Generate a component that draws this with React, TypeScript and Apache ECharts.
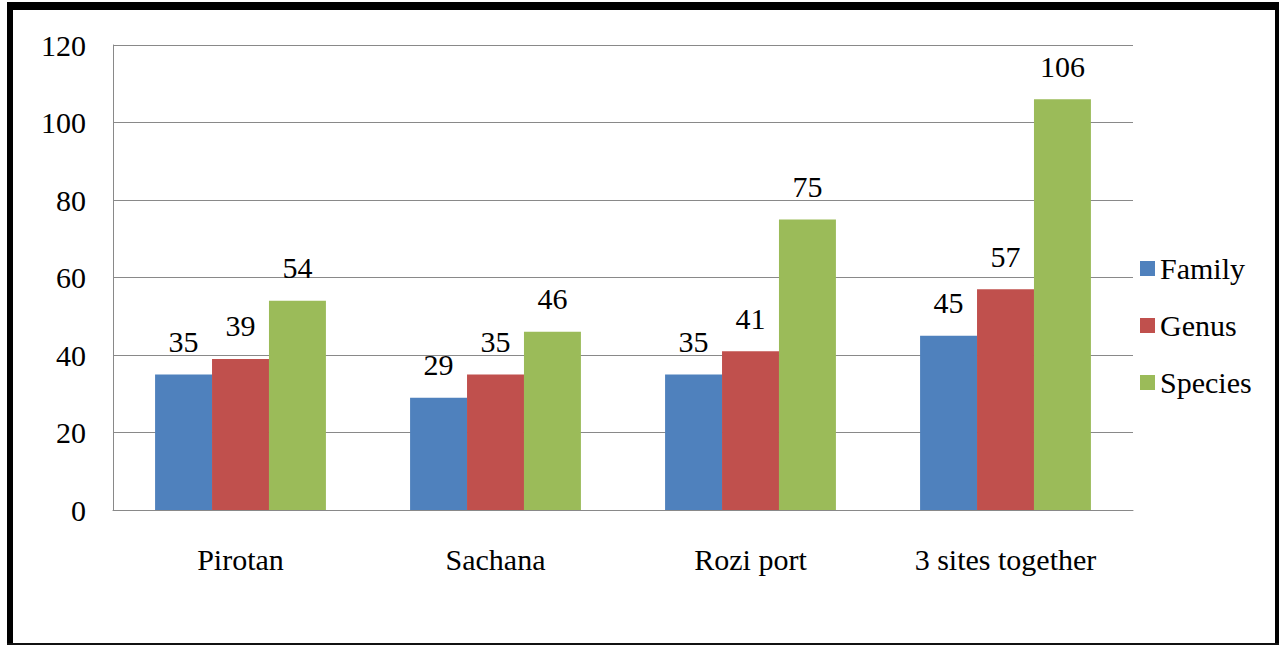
import React, { useEffect, useRef } from "react";
import * as echarts from "echarts";

const categories = ["Pirotan", "Sachana", "Rozi port", "3 sites together"];
const familyValues = [35, 29, 35, 45];
const genusValues = [39, 35, 41, 57];
const speciesValues = [54, 46, 75, 106];
const seriesNames = ["Family", "Genus", "Species"];
const colors = ["#4F81BD", "#C0504D", "#9BBB59"];

const FONT = "Liberation Serif";

export default function App() {
  const ref = useRef<HTMLDivElement>(null);
  useEffect(() => {
    document.body.style.margin = "0";
    if (!ref.current) return;
    const chart = echarts.init(ref.current, undefined, { renderer: "svg" });
    const dataSets = [familyValues, genusValues, speciesValues];
    chart.setOption({
      animation: false,
      backgroundColor: "#ffffff",
      textStyle: { fontFamily: FONT },
      grid: { left: 113, top: 45, right: 1279 - 1133, bottom: 646 - 510, containLabel: false },
      legend: {
        orient: "vertical",
        left: 1140,
        top: 253,
        padding: 0,
        itemWidth: 15,
        itemHeight: 15,
        itemGap: 26,
        icon: "rect",
        data: seriesNames,
        textStyle: { fontFamily: FONT, fontSize: 30, color: "#000", lineHeight: 31 },
      },
      xAxis: {
        type: "category",
        data: categories,
        axisLine: { show: true, lineStyle: { color: "#898989", width: 1 } },
        axisTick: { show: false },
        axisLabel: { fontFamily: FONT, fontSize: 30, color: "#000", margin: 34 },
      },
      yAxis: {
        type: "value",
        min: 0,
        max: 120,
        interval: 20,
        axisLine: { show: true, lineStyle: { color: "#898989", width: 1 } },
        axisTick: { show: false },
        splitLine: { show: true, lineStyle: { color: "#898989", width: 1 } },
        axisLabel: { fontFamily: FONT, fontSize: 30, color: "#000", margin: 27 },
      },
      series: seriesNames.map((name, i) => ({
        name,
        type: "bar",
        data: dataSets[i],
        barGap: "0%",
        barCategoryGap: "33%",
        itemStyle: { color: colors[i] },
        label: {
          show: true,
          position: "top",
          distance: 18,
          fontFamily: FONT,
          fontSize: 30,
          color: "#000",
        },
      })),
      graphic: [
        { type: "rect", shape: { x: 7, y: 2, width: 1272, height: 8 }, style: { fill: "#000" }, silent: true },
        { type: "rect", shape: { x: 7, y: 2, width: 6, height: 643 }, style: { fill: "#000" }, silent: true },
        { type: "rect", shape: { x: 1275, y: 2, width: 4, height: 643 }, style: { fill: "#000" }, silent: true },
        { type: "rect", shape: { x: 7, y: 643, width: 1272, height: 2 }, style: { fill: "#111" }, silent: true },
      ],
    });
    return () => chart.dispose();
  }, []);
  return <div ref={ref} style={{ width: 1279, height: 646 }} />;
}
